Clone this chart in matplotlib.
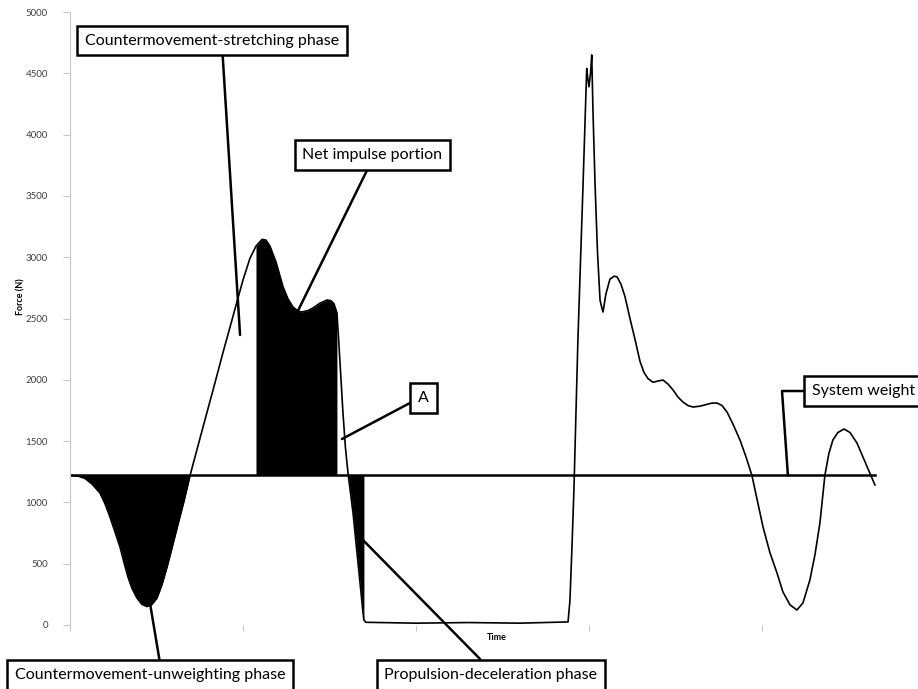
import numpy as np
import matplotlib
matplotlib.use("Agg")
import matplotlib.pyplot as plt

plt.rcParams['font.family'] = ['Lato', 'DejaVu Sans']

# force-time trace of a countermovement jump (time in samples, force in N)
time = [0, 4.6, 8.7, 12.7, 17.3, 20.2, 23.1, 26.0, 28.9, 31.2, 33.5, 35.8,
        38.7, 41.6, 44.5, 47.4, 50.3, 53.2, 56.1, 59.0, 62.4, 65.9, 69.4,
        72.8, 76.9, 82.7, 88.4, 95.4, 100.0, 104.0, 107.5, 111.0, 113.3,
        115.6, 119.1, 123.1, 126.0, 128.9, 131.8, 134.1, 137.6, 140.5, 144.5,
        148.6, 150.9, 152.6, 154.3, 155.2, 156.1, 157.8, 159.2, 160.7, 163.6,
        166.5, 169.4, 169.9, 171.1, 200.0, 230.0, 260.0, 287.9, 289.0, 290.2,
        291.3, 293.6, 296.5, 298.7, 299.4, 300.0, 300.9, 301.6, 302.3, 303.5,
        304.9, 306.4, 307.2, 308.1, 309.8, 312.1, 314.5, 316.2, 318.5, 320.8,
        323.7, 326.6, 329.5, 331.8, 334.1, 337.0, 339.9, 342.8, 345.7, 348.6,
        351.4, 354.3, 357.2, 360.1, 364.2, 368.2, 371.1, 374.0, 376.9, 379.8,
        383.2, 387.3, 390.8, 394.2, 397.1, 400.6, 404.6, 408.7, 412.1, 416.2,
        420.2, 423.7, 427.7, 430.6, 433.5, 436.4, 438.7, 441.0, 443.9, 447.4,
        450.9, 454.9, 458.4, 462.4, 465.3]
force = [1220, 1215, 1195, 1150, 1077, 990, 881, 760, 636, 510, 392, 300,
         220, 168, 150, 168, 220, 330, 473, 630, 820, 1010, 1220,
         1400, 1615, 1917, 2220, 2580, 2814, 2990, 3090, 3145, 3140,
         3090, 2960, 2760, 2660, 2594, 2560, 2553, 2565, 2586, 2625,
         2651, 2645, 2620, 2545, 2350, 2137, 1729, 1450, 1240, 914,
         506, 98, 40, 22, 15, 20, 15, 25, 200, 650,
         1100, 2325, 3560, 4540, 4450, 4390, 4500, 4650, 4200, 3600,
         3050, 2650, 2600, 2553, 2700, 2820, 2845, 2840, 2780, 2680,
         2500, 2330, 2150, 2060, 2010, 1980, 1990, 1998, 1965, 1917,
         1860, 1819, 1790, 1778, 1785, 1800, 1810, 1811, 1790, 1737,
         1640, 1509, 1370, 1220, 1030, 800, 590, 424, 270, 165,
         122, 180, 367, 570, 832, 1223, 1400, 1509, 1570, 1599,
         1570, 1485, 1370, 1240, 1142]
system_weight = 1220

# shaded phases (start, end in samples)
unweighting = (0, 69.4)
net_impulse = (107.5, 154.3)
deceleration = (160.7, 169.9)

y_ticks = [0, 500, 1000, 1500, 2000, 2500, 3000, 3500, 4000, 4500, 5000]
x_ticks = [0, 100, 200, 300, 400]

t = np.array(time)
f = np.array(force)

fig = plt.figure(figsize=(9.18, 6.89), dpi=100)
ax = fig.add_axes([70 / 918, 1 - 625 / 689, 848 / 918, 613 / 689])

for lo, hi in (unweighting, net_impulse, deceleration):
    m = (t >= lo) & (t <= hi)
    ax.fill_between(t[m], f[m], system_weight, color='black', lw=0)

ax.plot(t, f, color='black', lw=1.2)
ax.plot([t[0], t[-1]], [system_weight, system_weight], color='black', lw=1.8)

ax.set_xlim(0, 490.2)
ax.set_ylim(0, 5000)
ax.set_yticks(y_ticks)
ax.set_xticks(x_ticks)
ax.set_xticklabels([])
for s in ('top', 'right', 'bottom'):
    ax.spines[s].set_visible(False)
ax.spines['left'].set_color('#c8c8c8')
ax.tick_params(axis='y', colors='#c8c8c8', labelcolor='#404040', labelsize=7,
               length=5, pad=11)
ax.tick_params(axis='x', colors='#c8c8c8', length=4, direction='out')
ax.set_ylabel('Force (N)', fontsize=6.5, fontweight='bold')
ax.yaxis.set_label_coords(-0.052, 0.535)
fig.text(497 / 918, 1 - 637 / 689, 'Time', fontsize=6.5, fontweight='bold',
         ha='center', va='center')

box = dict(boxstyle='square,pad=0.5', fc='white', ec='black', lw=1.8)


def label(text, tip, pos, rel, conn='arc3'):
    ax.annotate(text, xy=tip, xycoords='data', xytext=pos,
                textcoords='figure pixels', ha='center', va='center',
                fontsize=11.5, bbox=box, annotation_clip=False,
                arrowprops=dict(arrowstyle='-', lw=1.8, color='black',
                                shrinkA=0, shrinkB=0, relpos=rel,
                                connectionstyle=conn))


label('Countermovement-stretching phase', (98.3, 2366), (212, 648.5), (0.54, 0))
label('Net impulse portion', (128.3, 2463), (372.5, 534), (0.49, 0))
label('A', (157.2, 1517), (423.5, 291), (0, 0.45))
label('System weight', (415, system_weight), (864, 298), (0, 0.5),
      conn='angle,angleA=0,angleB=94,rad=0')
label('Countermovement-unweighting phase', (41.6, 571), (150, 14), (0.54, 1))
label('Propulsion-deceleration phase', (167.6, 718), (491, 14), (0.49, 1))

fig.savefig('out.png', dpi=100)
